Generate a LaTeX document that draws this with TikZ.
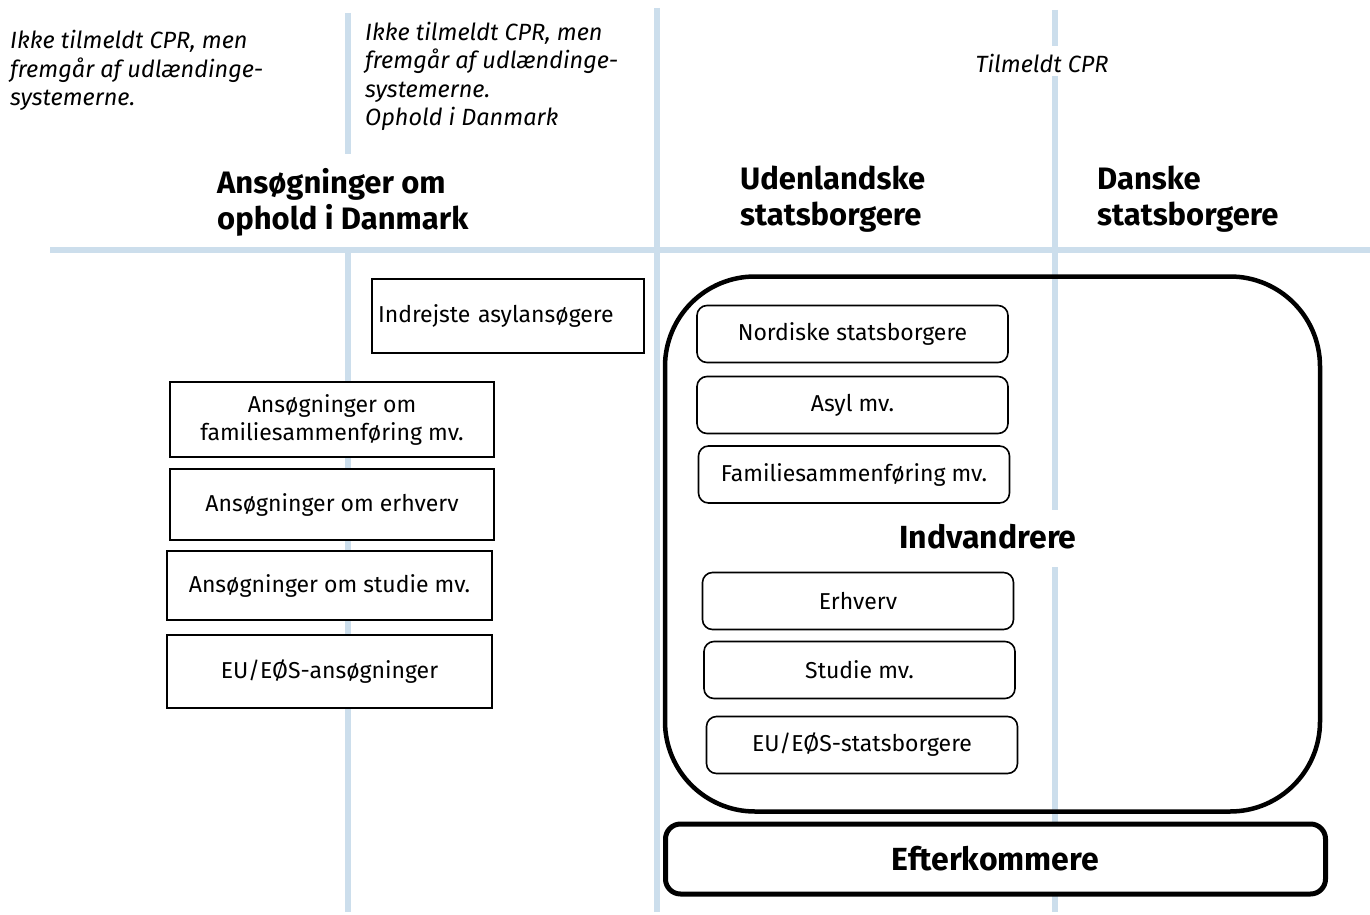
\documentclass[tikz,border=0pt]{standalone}
\usepackage{fontspec}
\setmainfont{Fira Sans}
\definecolor{gridblue}{RGB}{204,222,236}
\begin{document}
\begin{tikzpicture}[x=1pt,y=-1pt,
  grid/.style={draw=gridblue,line width=6pt},
  note/.style={font=\itshape\fontsize{23.5}{28.5}\selectfont,align=left,inner sep=0pt},
  head/.style={font=\bfseries\fontsize{31}{36}\selectfont,align=left,inner sep=0pt},
  appbox/.style={draw,fill=white,line width=1.5pt,inner sep=0pt,font=\fontsize{23}{28}\selectfont,align=center},
  catbox/.style={draw,fill=white,line width=1.6pt,rounded corners=10pt,minimum width=311pt,minimum height=57pt,inner sep=0pt,font=\fontsize{23}{26}\selectfont},
  bigtext/.style={font=\bfseries\fontsize{32}{36}\selectfont,inner sep=0pt},
]
\useasboundingbox (0,0) rectangle (1370,915);
% grid lines
\draw[grid] (348,13) -- (348,154);
\draw[grid] (348,248) -- (348,912);
\draw[grid] (657,8) -- (657,912);
\draw[grid] (1055,10) -- (1055,46);
\draw[grid] (1055,76) -- (1055,510);
\draw[grid] (1055,567) -- (1055,912);
\draw[grid] (50,250) -- (1370,250);
% notes (base = last line)
\node[note,anchor=base west] (n1) at (10,106) {Ikke tilmeldt CPR, men\\fremgår af udlændinge-\\systemerne.};
\node[note,anchor=base west] (n2) at (365,126) {Ikke tilmeldt CPR, men\\fremgår af udlændinge-\\systemerne.\\Ophold i Danmark};
\node[note,anchor=base] (n3) at (1042,73) {Tilmeldt CPR};
% headers
\node[head,anchor=base west] (h1) at (217,229) {Ansøgninger om\\ophold i Danmark};
\node[head,anchor=base west] (h2) at (740,225) {Udenlandske\\statsborgere};
\node[head,anchor=base west] (h3) at (1097,225) {Danske\\statsborgere};
% application boxes
\node[appbox,minimum width=272pt,minimum height=74pt,text width=260pt,align=left,inner xsep=6pt] (asylin) at (508,316) {Indrejste asylansøgere};
\node[appbox,minimum width=324pt,minimum height=75pt] (afam) at (332,419.5) {Ansøgninger om\\familiesammenføring mv.};
\node[appbox,minimum width=324pt,minimum height=71pt] (aerh) at (332,504.5) {Ansøgninger om erhverv};
\node[appbox,minimum width=325pt,minimum height=69pt] (astu) at (329.5,585.5) {Ansøgninger om studie mv.};
\node[appbox,minimum width=325pt,minimum height=73pt] (aeu) at (329.5,671.5) {EU/EØS-ansøgninger};
% immigrants box
\node[draw,line width=4.5pt,rounded corners=90pt,minimum width=655pt,minimum height=535pt,inner sep=0pt] (ind) at (992.5,544) {};
\node[bigtext] (indl) at (988,537) {Indvandrere};
\node[catbox] (nord) at (852.5,334) {Nordiske statsborgere};
\node[catbox] (asyl) at (852.5,405) {Asyl mv.};
\node[catbox] (famm) at (854,474.5) {Familiesammenføring mv.};
\node[catbox] (erh) at (858,601) {Erhverv};
\node[catbox] (stud) at (859.5,670) {Studie mv.};
\node[catbox] (eues) at (862,745) {EU/EØS-statsborgere};
% descendants
\node[draw,fill=white,line width=5pt,rounded corners=15pt,minimum width=660pt,minimum height=70pt,inner sep=0pt,bigtext] (eft) at (995.5,859) {Efterkommere};
\end{tikzpicture}
\end{document}
